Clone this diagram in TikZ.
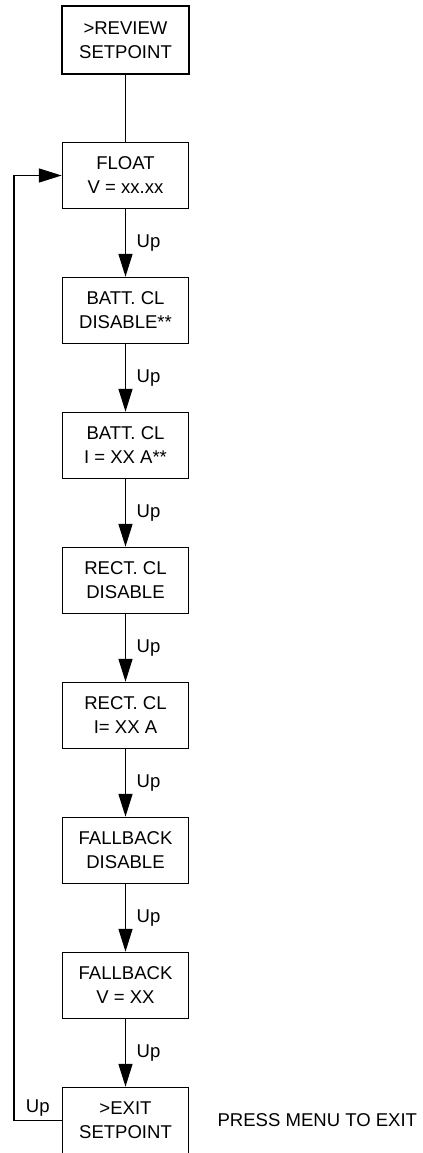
\documentclass[tikz,border=0pt]{standalone}
\usepackage{fontspec}
\setmainfont{Liberation Sans}
\usetikzlibrary{arrows.meta,positioning}
\tikzset{
  menubox/.style={draw, line width=0.8pt, align=center, font=\fontsize{13.9}{18}\selectfont,
    minimum width=95pt, minimum height=50pt, inner sep=2pt},
  topbox/.style={menubox, line width=1.6pt, minimum height=51pt},
  flow/.style={-{Triangle[length=17pt, width=10.5pt]}, line width=0.8pt},
  keylbl/.style={font=\fontsize{13.9}{16}\selectfont, inner sep=2pt},
}
\begin{document}
\begin{tikzpicture}[x=0.75pt, y=-0.75pt]
    \useasboundingbox (0,0) rectangle (423,1153);
    % --- menu screens, explicit coordinates ---
    \node[topbox]  (review)  at (125.5,40)     {>REVIEW\\SETPOINT};
    \node[menubox] (float)   at (125.5,175.5)  {FLOAT\\V = xx.xx};
    \node[menubox] (bdis)    at (125.5,310.5)  {BATT. CL\\DISABLE**};
    \node[menubox] (bcur)    at (125.5,445.5)  {BATT. CL\\I = XX A**};
    \node[menubox] (rdis)    at (125.5,580.5)  {RECT. CL\\DISABLE};
    \node[menubox] (rcur)    at (125.5,715.5)  {RECT. CL\\I= XX A};
    \node[menubox] (fdis)    at (125.5,850.5)  {FALLBACK\\DISABLE};
    \node[menubox] (fvolt)   at (125.5,985.5)  {FALLBACK\\V = XX};
    \node[menubox] (exit)    at (125.5,1120.5) {>EXIT\\SETPOINT};
    \node[keylbl, right=19pt of exit] (press) {PRESS MENU TO EXIT};
    % --- main chain ---
    \draw[line width=0.8pt] (review) -- (float);
    \draw[flow] (float) -- node[keylbl, right=6pt]{Up} (bdis);
    \draw[flow] (bdis)  -- node[keylbl, right=6pt]{Up} (bcur);
    \draw[flow] (bcur)  -- node[keylbl, right=6pt]{Up} (rdis);
    \draw[flow] (rdis)  -- node[keylbl, right=6pt]{Up} (rcur);
    \draw[flow] (rcur)  -- node[keylbl, right=6pt]{Up} (fdis);
    \draw[flow] (fdis)  -- node[keylbl, right=6pt]{Up} (fvolt);
    \draw[flow] (fvolt) -- node[keylbl, right=6pt]{Up} (exit);
    % back to the first screen, routed along the left edge
    \coordinate (lbot) at (14,1120.5);
    \coordinate (ltop) at (14,175.5);
    \draw[flow] (exit.west) -- node[keylbl, above=1pt]{Up} (lbot) -- (ltop) -- (float.west);
  \end{tikzpicture}
\end{document}
